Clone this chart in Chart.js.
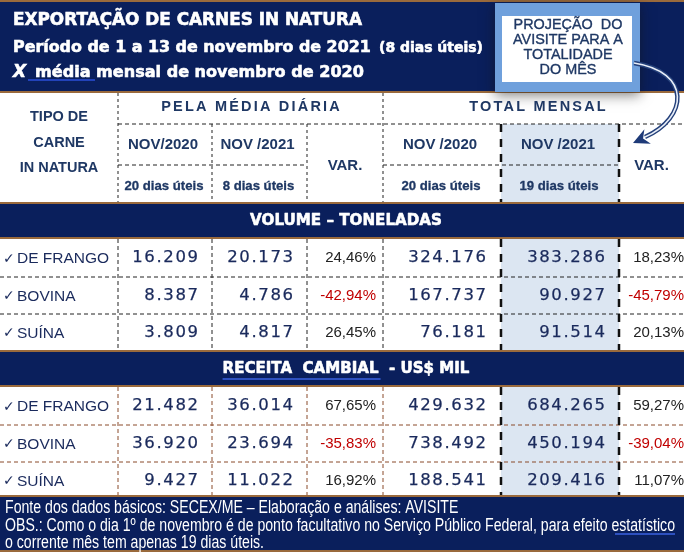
<html>
<head>
<meta charset="utf-8">
<script src="https://cdn.jsdelivr.net/npm/chart.js@4.4.1/dist/chart.umd.min.js"></script>
<style>
  html, body { margin: 0; padding: 0; background: #fff; }
  canvas { display: block; }
</style>
</head>
<body>
<canvas id="tabela" width="684" height="552"></canvas>
<script>
// dados da tabela (exportação de carnes in natura)
const tipos = ["DE FRANGO", "BOVINA", "SUÍNA"];
const colHeaders = ["NOV/2020", "NOV /2021", "VAR.", "NOV /2020", "NOV /2021", "VAR."];
const colDias = ["20 dias úteis", "8 dias úteis", "", "20 dias úteis", "19 dias úteis", ""];

// VOLUME - TONELADAS
const volMedia2020 = [16209, 8387, 3809];
const volMedia2021 = [20173, 4786, 4817];
const volMediaVar  = [24.46, -42.94, 26.45];
const volTotal2020 = [324176, 167737, 76181];
const volTotal2021 = [383286, 90927, 91514];
const volTotalVar  = [18.23, -45.79, 20.13];

// RECEITA CAMBIAL - US$ MIL
const recMedia2020 = [21482, 36920, 9427];
const recMedia2021 = [36014, 23694, 11022];
const recMediaVar  = [67.65, -35.83, 16.92];
const recTotal2020 = [429632, 738492, 188541];
const recTotal2021 = [684265, 450194, 209416];
const recTotalVar  = [59.27, -39.04, 11.07];

const W = 684, H = 552;
const NAVY = "#0a1f5c";
const BROWN = "#9a6a3c";
const INK = "#1f3864";
const NUM = "#1a2a5c";
const RED = "#c00000";
const HILITE = "#dce6f2";

// layout (bordas das colunas)
const cols = [0, 118, 212, 307, 383, 501, 619, 684];

function fmtInt(n) {
  return String(n).replace(/\B(?=(\d{3})+(?!\d))/g, ".");
}
function fmtPct(v) {
  return v.toFixed(2).replace(".", ",") + "%";
}

const tablePlugin = {
  id: "tabela",
  afterDraw(chart) {
    const ctx = chart.ctx;
    const xs = chart.scales.x, ys = chart.scales.y;
    const px = v => xs.getPixelForValue(v);
    const py = v => ys.getPixelForValue(v);

    function rect(x0, y0, x1, y1, color) {
      ctx.fillStyle = color;
      ctx.fillRect(px(x0), py(y0), px(x1) - px(x0), py(y1) - py(y0));
    }
    function line(x0, y0, x1, y1, color, width, dash) {
      ctx.save();
      ctx.strokeStyle = color;
      ctx.lineWidth = width;
      ctx.setLineDash(dash || []);
      ctx.beginPath();
      ctx.moveTo(px(x0), py(y0));
      ctx.lineTo(px(x1), py(y1));
      ctx.stroke();
      ctx.restore();
    }
    function fitFont(str, weight, family, target, spacing) {
      ctx.font = weight + " 20px " + family;
      ctx.letterSpacing = (spacing || 0) + "px";
      const n = str.length;
      const w = ctx.measureText(str).width - (spacing || 0) * n;
      const size = 20 * (target - (spacing || 0) * (n - 1)) / w;
      ctx.letterSpacing = "0px";
      return weight + " " + size.toFixed(2) + "px " + family;
    }
    function text(str, x, y, font, color, align, spacing, heavy) {
      ctx.save();
      ctx.font = font;
      ctx.fillStyle = color;
      ctx.textAlign = align || "left";
      ctx.textBaseline = "middle";
      ctx.letterSpacing = (spacing || 0) + "px";
      let xx = px(x);
      if (spacing && align === "right") xx += spacing;
      if (spacing && align === "center") xx += spacing / 2;
      ctx.fillText(str, xx, py(y));
      if (heavy) {
        ctx.strokeStyle = color;
        ctx.lineWidth = heavy;
        ctx.lineJoin = "round";
        ctx.strokeText(str, xx, py(y));
      }
      const w = ctx.measureText(str).width;
      ctx.restore();
      return w;
    }
    function brownRule(y) {
      rect(0, y - 1, W, y + 1, BROWN);
    }

    // ---- cabeçalho azul ----
    rect(0, 0, W, H, "#ffffff");
    rect(0, 2, W, 91, NAVY);
    brownRule(1);
    brownRule(92);

    const titleFam = '"DejaVu Sans"';
    function title(str, x, yBase, font) {
      ctx.save();
      ctx.font = font;
      ctx.textBaseline = "alphabetic";
      ctx.fillStyle = "#fff";
      ctx.strokeStyle = "#fff";
      ctx.lineWidth = 0.6;
      ctx.fillText(str, px(x), py(yBase));
      ctx.strokeText(str, px(x), py(yBase));
      ctx.restore();
    }
    title("EXPORTAÇÃO DE CARNES IN NATURA", 13, 25, fitFont("EXPORTAÇÃO DE CARNES IN NATURA", "bold", titleFam, 349));
    title("Período de 1 a 13 de novembro de 2021", 13, 52, fitFont("Período de 1 a 13 de novembro de 2021", "bold", titleFam, 358));
    title("(8 dias úteis)", 379, 52, fitFont("(8 dias úteis)", "bold", titleFam, 104));
    title("X", 13, 77, "italic bold 17px " + titleFam);
    title("média mensal de novembro de 2020", 35, 77, fitFont("média mensal de novembro de 2020", "bold", titleFam, 329));
    line(28, 80, 95, 80, "#2b4fd8", 1.5);

    // caixa "projeção"
    ctx.save();
    ctx.shadowColor = "rgba(20,20,20,0.55)";
    ctx.shadowBlur = 12;
    ctx.shadowOffsetY = 3;
    rect(495, 3, 640, 92, "#6fa0dc");
    ctx.restore();
    rect(502, 16, 632, 82, "#ffffff");
    const boxFont = fitFont("AVISITE PARA A", "normal", '"Liberation Sans"', 110);
    text("PROJEÇÃO  DO", 568, 25, boxFont, INK, "center", 0, 0.35);
    text("AVISITE PARA A", 568, 40, boxFont, INK, "center", 0, 0.35);
    text("TOTALIDADE", 568, 55, boxFont, INK, "center", 0, 0.35);
    text("DO MÊS", 568, 70, boxFont, INK, "center", 0, 0.35);

    // ---- cabeçalho da tabela ----
    rect(cols[5], 124, cols[6], 203, HILITE);
    const hb = '"Liberation Sans"';
    const hFont = "bold 14.5px " + hb;
    text("TIPO DE", 59, 117, hFont, INK, "center");
    text("CARNE", 59, 143, hFont, INK, "center");
    text("IN NATURA", 59, 168, hFont, INK, "center");
    text("PELA MÉDIA DIÁRIA", (cols[1] + cols[4]) / 2, 107, "bold 14.5px " + hb, INK, "center", 2.2);
    text("TOTAL MENSAL", (cols[4] + cols[7]) / 2 + 4, 107, "bold 14.5px " + hb, INK, "center", 2.2);
    const subFont = "bold 15px " + hb;
    const diasFont = fitFont("20 dias úteis", "bold", hb, 79);
    for (let i = 0; i < 6; i++) {
      const cx = (cols[i + 1] + cols[i + 2]) / 2;
      if (colHeaders[i] === "VAR.") {
        text(colHeaders[i], cx, 166, subFont, INK, "center");
      } else {
        text(colHeaders[i], cx - 2, 145, subFont, INK, "center");
        text(colDias[i], cx - 1, 186, diasFont, INK, "center", 0, 0.3);
      }
    }
    const thin = [3, 3];
    line(cols[1], 93, cols[1], 203, "#222", 1, thin);
    line(cols[4], 93, cols[4], 203, "#222", 1, thin);
    line(cols[2], 124, cols[2], 203, "#222", 1, thin);
    line(cols[3], 124, cols[3], 203, "#222", 1, thin);
    line(cols[5], 124, cols[5], 203, "#111", 2.5, [8, 7]);
    line(cols[6], 124, cols[6], 203, "#111", 2.5, [8, 7]);
    line(cols[1], 124, W, 124, "#222", 1, [4, 3]);
    line(cols[1], 165, cols[3], 165, "#222", 1, [4, 3]);
    line(cols[4], 165, cols[6], 165, "#222", 1, [4, 3]);

    // ---- blocos de dados ----
    const bandFont = '"DejaVu Sans"';
    function bloco(titulo, top, series, dashColor, underline) {
      brownRule(top);
      rect(0, top + 1, W, top + 34, NAVY);
      brownRule(top + 35);
      const bf = fitFont(titulo, "bold", bandFont, titulo.length > 20 ? 247 : 192);
      const tw = text(titulo, W / 2 + 4, top + 18, bf, "#fff", "center", 0, 0.6);
      if (underline) {
        const x0 = W / 2 + 4 - tw / 2;
        line(x0, top + 28, x0 + underline * tw, top + 28, "#3a62e0", 1.5);
      }
      const r0 = top + 36;
      const rh = [38, 37, 37];
      rect(cols[5], r0, cols[6], r0 + rh[0] + rh[1] + rh[2], HILITE);
      let y = r0;
      const numFont = '16.5px "DejaVu Sans"';
      const pctFont = '15px "Liberation Sans"';
      for (let i = 0; i < tipos.length; i++) {
        const cy = y + rh[i] / 2;
        text("✓", 3, cy + 1, '14px "DejaVu Sans"', NUM, "left");
        text(tipos[i], 17, cy + 1, '15.5px "Liberation Sans"', NUM, "left");
        text(fmtInt(series[0][i]), 198, cy, numFont, NUM, "right", 1.6, 0.25);
        text(fmtInt(series[1][i]), 293, cy, numFont, NUM, "right", 1.6, 0.25);
        text(fmtPct(series[2][i]), 376, cy, pctFont, series[2][i] < 0 ? RED : "#222", "right");
        text(fmtInt(series[3][i]), 486, cy, numFont, NUM, "right", 1.6, 0.25);
        text(fmtInt(series[4][i]), 605, cy, numFont, NUM, "right", 1.6, 0.25);
        text(fmtPct(series[5][i]), 684, cy, pctFont, series[5][i] < 0 ? RED : "#222", "right");
        y += rh[i];
        if (i < tipos.length - 1) line(0, y, W, y, dashColor, 1, [4, 3]);
      }
      for (const c of [cols[1], cols[2], cols[3], cols[4]]) {
        line(c, r0, c, y, dashColor, 1, [4, 3]);
      }
      line(cols[5], r0, cols[5], y, "#111", 2.5, [8, 7]);
      line(cols[6], r0, cols[6], y, "#111", 2.5, [8, 7]);
    }
    bloco("VOLUME – TONELADAS", 203,
      [volMedia2020, volMedia2021, volMediaVar, volTotal2020, volTotal2021, volTotalVar], "#222", 0);
    bloco("RECEITA  CAMBIAL  - US$ MIL", 351,
      [recMedia2020, recMedia2021, recMediaVar, recTotal2020, recTotal2021, recTotalVar], "#8a4a2a", 0.64);

    // ---- rodapé (fonte estreita simulada) ----
    brownRule(496);
    rect(0, 497, W, 551, NAVY);
    brownRule(551);
    const obs = "OBS.: Como o dia 1º de novembro é de ponto facultativo no Serviço Público Federal, para efeito estatístico";
    const footF = '17.5px "Liberation Sans"';
    ctx.save();
    ctx.font = footF;
    const sx = 670 / ctx.measureText(obs).width;
    ctx.restore();
    function foot(str, y) {
      ctx.save();
      ctx.font = footF;
      ctx.fillStyle = "#fff";
      ctx.textBaseline = "middle";
      ctx.translate(px(5), py(y));
      ctx.scale(sx, 1);
      ctx.fillText(str, 0, 0);
      const w = ctx.measureText(str).width * sx;
      ctx.restore();
      return w;
    }
    foot("Fonte dos dados básicos: SECEX/ME – Elaboração e análises: AVISITE", 508);
    const ow = foot(obs, 526);
    foot("o corrente mês tem apenas 19 dias úteis.", 543);
    line(5 + ow - 60, 534, 5 + ow, 534, "#3a62e0", 1.5);

    // seta curva da caixa para a coluna VAR.
    ctx.save();
    const p0 = [634, 63], c1 = [692, 72], c2 = [688, 118], p3 = [645, 137];
    ctx.beginPath();
    ctx.moveTo(px(p0[0]), py(p0[1]));
    ctx.bezierCurveTo(px(c1[0]), py(c1[1]), px(c2[0]), py(c2[1]), px(p3[0]), py(p3[1]));
    ctx.strokeStyle = "#24407a";
    ctx.lineWidth = 4.5;
    ctx.stroke();
    ctx.strokeStyle = "#e8eef8";
    ctx.lineWidth = 1.6;
    ctx.stroke();
    const ang = Math.atan2(p3[1] - c2[1], p3[0] - c2[0]);
    const tip = [633, 143];
    ctx.translate(px(tip[0]), py(tip[1]));
    ctx.rotate(ang);
    ctx.beginPath();
    ctx.moveTo(0, 0);
    ctx.lineTo(-16, -8);
    ctx.lineTo(-11, 0);
    ctx.lineTo(-16, 8);
    ctx.closePath();
    ctx.fillStyle = "#1e3a78";
    ctx.fill();
    ctx.restore();
  }
};

new Chart(document.getElementById("tabela"), {
  type: "scatter",
  data: { datasets: [] },
  options: {
    responsive: false,
    animation: false,
    devicePixelRatio: 1,
    events: [],
    layout: { padding: 0 },
    plugins: { legend: { display: false }, tooltip: { enabled: false } },
    scales: {
      x: { type: "linear", min: 0, max: W, display: false },
      y: { type: "linear", min: 0, max: H, reverse: true, display: false }
    }
  },
  plugins: [tablePlugin]
});
</script>
</body>
</html>
